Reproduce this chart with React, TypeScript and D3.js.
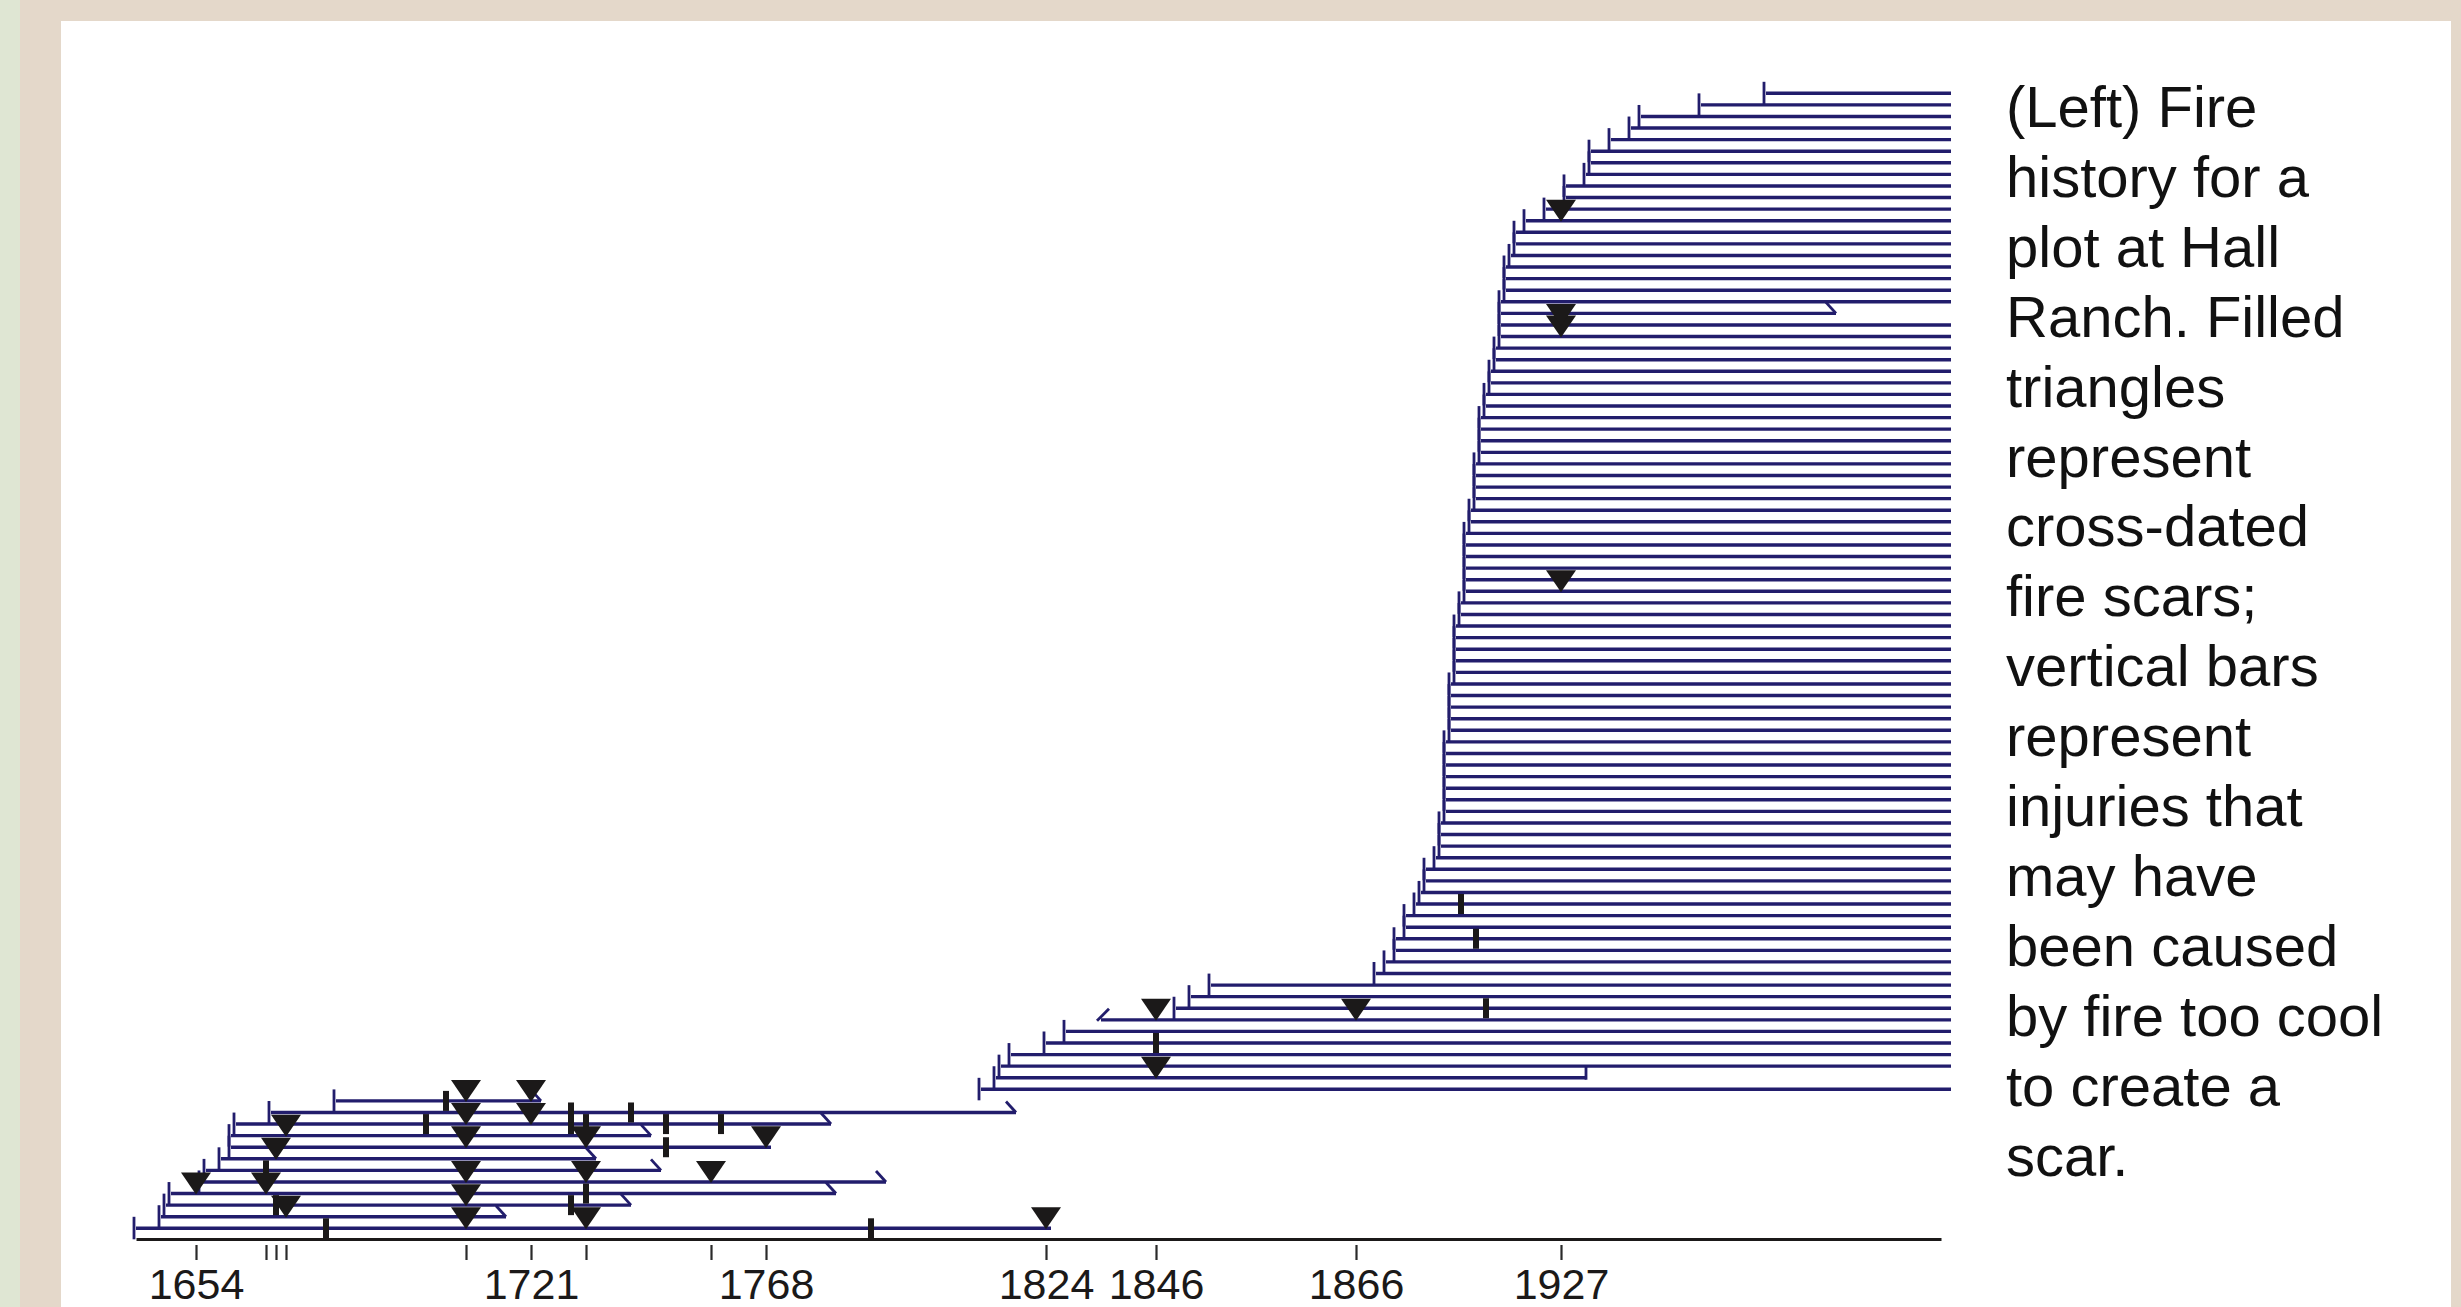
import React, { useEffect, useRef } from 'react';
import * as d3 from 'd3';

const W = 2461;
const H = 1307;

// samples, row 0 = lowest line above the axis, row 98 = top line
const innerYears = [
  1642, 1647, 1648, 1649, 1655, 1656, 1659, 1661, 1661, 1662,
  1669, 1682, 1811, 1814, 1815, 1817, 1824, 1828, 1835, 1850,
  1853, 1857, 1890, 1892, 1894, 1894, 1896, 1896, 1898, 1899,
  1900, 1900, 1902, 1903, 1903, 1903, 1904, 1904, 1904, 1904,
  1904, 1904, 1904, 1905, 1905, 1905, 1905, 1905, 1906, 1906,
  1906, 1906, 1906, 1907, 1907, 1908, 1908, 1908, 1908, 1908,
  1908, 1909, 1909, 1910, 1910, 1910, 1910, 1911, 1911, 1911,
  1911, 1912, 1912, 1913, 1913, 1914, 1914, 1915, 1915, 1915,
  1915, 1916, 1916, 1916, 1917, 1918, 1918, 1920, 1924, 1928,
  1928, 1932, 1933, 1933, 1937, 1941, 1943, 1955, 1968,
];

const outerYears = [
  1825, 1716, 1741, 1782, 1792, 1747, 1734, 1769, 1745, 1781,
  1818, 1723, 2005, 1932, 2005, 2005, 2005, 2005, 2005, 2005,
  2005, 2005, 2005, 2005, 2005, 2005, 2005, 2005, 2005, 2005,
  2005, 2005, 2005, 2005, 2005, 2005, 2005, 2005, 2005, 2005,
  2005, 2005, 2005, 2005, 2005, 2005, 2005, 2005, 2005, 2005,
  2005, 2005, 2005, 2005, 2005, 2005, 2005, 2005, 2005, 2005,
  2005, 2005, 2005, 2005, 2005, 2005, 2005, 2005, 2005, 2005,
  2005, 2005, 2005, 2005, 2005, 2005, 2005, 2005, 2005, 1982,
  2005, 2005, 2005, 2005, 2005, 2005, 2005, 2005, 2005, 2005,
  2005, 2005, 2005, 2005, 2005, 2005, 2005, 2005, 2005,
];

// rows whose inner date is not a pith date (drawn with a slash)
const innerRingRows = [18];
// rows ending with an outer ring (no bark): drawn with a hook
const outerRingRows = [1, 2, 3, 4, 5, 6, 8, 9, 10, 11, 79];
// rows ending with a bark / death date bar
const barkRows = [13];

// [row, year]
const fireScars = [
  [0, 1708], [0, 1732], [0, 1824],
  [1, 1672],
  [2, 1708],
  [3, 1654], [3, 1668],
  [4, 1708], [4, 1732], [4, 1757],
  [6, 1670],
  [7, 1708], [7, 1732], [7, 1768],
  [8, 1672],
  [9, 1708], [9, 1721],
  [11, 1708], [11, 1721],
  [13, 1846], [18, 1846], [18, 1886],
  [55, 1927], [77, 1927], [78, 1927], [87, 1927],
];

const injuries = [
  [0, 1680], [0, 1789],
  [2, 1670], [2, 1729],
  [3, 1732],
  [5, 1668],
  [7, 1748],
  [9, 1700], [9, 1729], [9, 1732], [9, 1748], [9, 1759],
  [10, 1729], [10, 1741],
  [11, 1704],
  [16, 1846], [19, 1912], [25, 1910], [28, 1907],
];

const tickYears = [1654, 1668, 1670, 1672, 1708, 1721, 1732, 1757, 1768, 1824, 1846, 1886, 1927];
const tickLabels = ['1654', '', '', '', '', '1721', '', '', '1768', '1824', '1846', '1866', '1927'];

const captionLines = [
  '(Left) Fire',
  'history for a',
  'plot at Hall',
  'Ranch. Filled',
  'triangles',
  'represent',
  'cross-dated',
  'fire scars;',
  'vertical bars',
  'represent',
  'injuries that',
  'may have',
  'been caused',
  'by fire too cool',
  'to create a',
  'scar.',
];

const FONT = '"Liberation Sans", Arial, Helvetica, sans-serif';
const BLUE = '#221d6c';
const INK = '#1b1919';

export default function App() {
  const ref = useRef<SVGSVGElement>(null);

  useEffect(() => {
    const svg = d3.select(ref.current);
    svg.selectAll('*').remove();

    // frame of the slide
    svg.append('rect').attr('width', W).attr('height', H).attr('fill', '#e4d8ca');
    svg.append('rect').attr('width', 20).attr('height', H).attr('fill', '#dfe6d3');
    svg.append('rect').attr('x', 61).attr('y', 21).attr('width', 2451 - 61).attr('height', H - 21).attr('fill', '#ffffff');

    const x = d3.scaleLinear().domain([1642, 2003]).range([136, 1941]);
    const y = d3.scaleLinear().domain([0, 98]).range([1228.3, 93.3]);

    const rows = innerYears.map((start, i) => ({ i, start, end: outerYears[i] }));

    const g = svg.append('g');

    // sample lines
    g.selectAll('line.sample')
      .data(rows)
      .enter().append('line')
      .attr('class', 'sample')
      .attr('x1', d => x(d.start))
      .attr('x2', d => x(d.end))
      .attr('y1', d => y(d.i))
      .attr('y2', d => y(d.i))
      .attr('stroke', BLUE)
      .attr('stroke-width', 3.4);

    // pith markers
    g.selectAll('line.pith')
      .data(rows.filter(d => !innerRingRows.includes(d.i)))
      .enter().append('line')
      .attr('class', 'pith')
      .attr('x1', d => x(d.start) - 2)
      .attr('x2', d => x(d.start) - 2)
      .attr('y1', d => y(d.i) - 11.5)
      .attr('y2', d => y(d.i) + 11)
      .attr('stroke', BLUE)
      .attr('stroke-width', 2.8);

    // inner ring markers
    g.selectAll('line.inner')
      .data(rows.filter(d => innerRingRows.includes(d.i)))
      .enter().append('line')
      .attr('class', 'inner')
      .attr('x1', d => x(d.start) - 4)
      .attr('x2', d => x(d.start) + 8)
      .attr('y1', d => y(d.i) + 1)
      .attr('y2', d => y(d.i) - 11)
      .attr('stroke', BLUE)
      .attr('stroke-width', 2.8);

    // outer ring hooks
    g.selectAll('line.outer')
      .data(rows.filter(d => outerRingRows.includes(d.i)))
      .enter().append('line')
      .attr('class', 'outer')
      .attr('x1', d => x(d.end) - 10)
      .attr('x2', d => x(d.end))
      .attr('y1', d => y(d.i) - 11)
      .attr('y2', d => y(d.i))
      .attr('stroke', BLUE)
      .attr('stroke-width', 2.8);

    // bark bars
    g.selectAll('line.bark')
      .data(rows.filter(d => barkRows.includes(d.i)))
      .enter().append('line')
      .attr('class', 'bark')
      .attr('x1', d => x(d.end))
      .attr('x2', d => x(d.end))
      .attr('y1', d => y(d.i) - 12)
      .attr('y2', d => y(d.i) + 2)
      .attr('stroke', BLUE)
      .attr('stroke-width', 2.8);

    // injuries
    g.selectAll('rect.injury')
      .data(injuries)
      .enter().append('rect')
      .attr('class', 'injury')
      .attr('x', d => x(d[1]) - 3)
      .attr('y', d => y(d[0]) - 10)
      .attr('width', 6)
      .attr('height', 20)
      .attr('fill', INK);

    // fire scars
    g.selectAll('path.scar')
      .data(fireScars)
      .enter().append('path')
      .attr('class', 'scar')
      .attr('d', d => {
        const cx = x(d[1]);
        const cy = y(d[0]);
        return `M${cx - 15},${cy - 21}L${cx + 15},${cy - 21}L${cx},${cy + 1}Z`;
      })
      .attr('fill', INK);

    // axis
    const axisY = 1239;
    const axis = d3.axisBottom(x)
      .tickValues(tickYears)
      .tickFormat((d, i) => tickLabels[i])
      .tickSizeOuter(0)
      .tickSizeInner(0);
    const ag = svg.append('g').attr('transform', `translate(0,${axisY})`).call(axis);
    ag.select('.domain').attr('stroke', INK).attr('stroke-width', 3.2);
    ag.selectAll('.tick line')
      .attr('y1', 6)
      .attr('y2', 21)
      .attr('stroke', '#2a2a2a')
      .attr('stroke-width', 2.2);
    ag.selectAll('.tick text')
      .attr('y', 60)
      .attr('dy', 0)
      .attr('fill', INK)
      .style('font-family', FONT)
      .style('font-size', '43px');

    // caption
    svg.append('g')
      .selectAll('text')
      .data(captionLines)
      .enter().append('text')
      .attr('x', 2006)
      .attr('y', (d, i) => 127 + i * 69.9)
      .attr('fill', '#111111')
      .style('font-family', FONT)
      .style('font-size', '58px')
      .text(d => d);
  }, []);

  return (
    <svg
      ref={ref}
      width={W}
      height={H}
      style={{ position: 'absolute', left: 0, top: 0, display: 'block' }}
    />
  );
}
